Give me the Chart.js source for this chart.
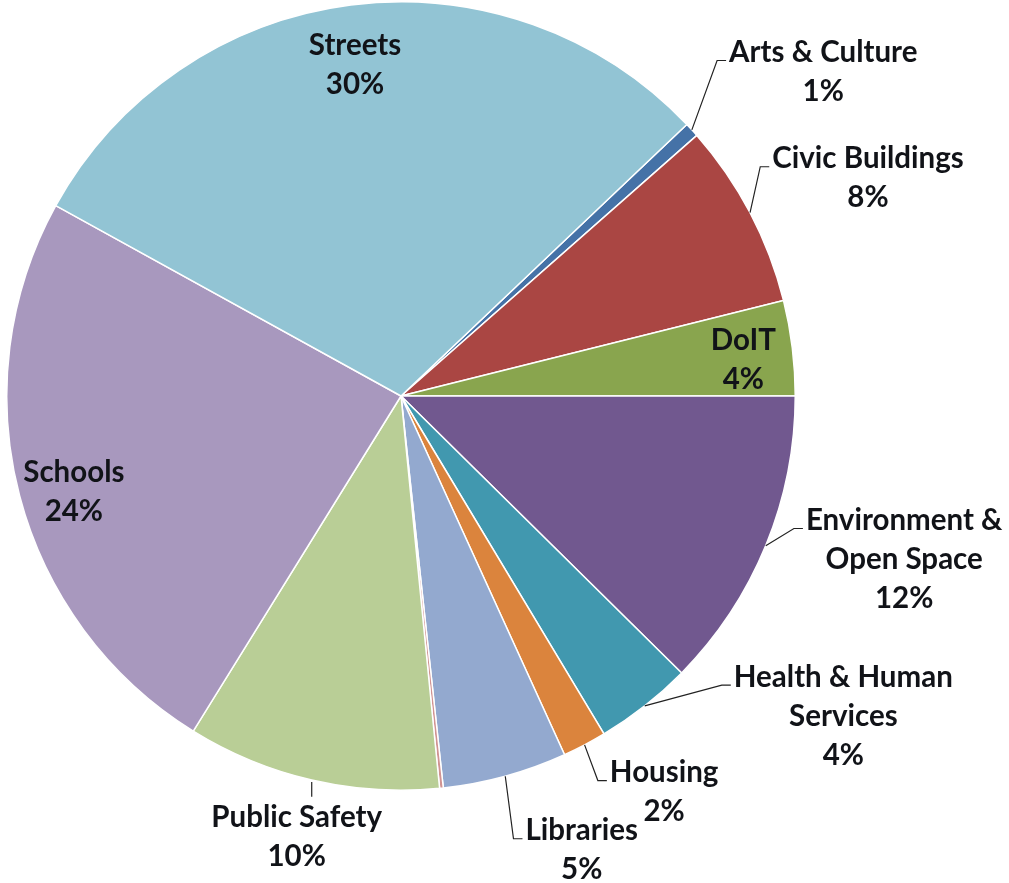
<!DOCTYPE html>
<html>
<head>
<meta charset="utf-8">
<script src="https://cdn.jsdelivr.net/npm/chart.js@4.4.1/dist/chart.umd.min.js"></script>
<style>
  html, body { margin: 0; padding: 0; background: #fff; }
  #wrap { width: 1009px; height: 883px; position: relative; }
</style>
</head>
<body>
<div id="wrap"><canvas id="budgetPie"></canvas></div>
<script>
// Capital budget share by area (percent of total)
const categories = ['Arts & Culture', 'Civic Buildings', 'DoIT', 'Environment & Open Space',
    'Health & Human Services', 'Housing', 'Libraries', 'Other', 'Public Safety', 'Schools', 'Streets'];
const labelLines = [['Arts & Culture'], ['Civic Buildings'], ['DoIT'], ['Environment &', 'Open Space'],
    ['Health & Human', 'Services'], ['Housing'], ['Libraries'], [], ['Public Safety'], ['Schools'], ['Streets']];
const shares = [0.6, 7.6, 3.9, 12.4, 4.0, 1.8, 5.1, 0.15, 10.4, 24.2, 29.9];
const sliceColors = ['#4572A7', '#AA4643', '#89A54E', '#71588F', '#4198AF', '#DB843D',
    '#93A9CF', '#D19392', '#B9CE96', '#A898BE', '#92C4D4'];

// where each label sits: angle clockwise from 12 o'clock, distance as a fraction of the radius
const labelAngles = [52.5, 65.0, 84.0, 108.0, 125.9, 146.4, 158.3, null, 193.3, 253.6, 352.1];
const labelDistances = [1.35, 1.307, 0.873, 1.342, 1.385, 1.206, 1.24, null, 1.15, 0.865, 0.848];
const leaderKinds = ['elbow', 'elbow', null, 'elbow', 'elbow', 'elbow', 'elbow', null, 'tick', null, null];

const total = shares.reduce((a, b) => a + b, 0);
const lineHeight = 39;

const pieLabels = {
    id: 'pieLabels',
    afterDatasetsDraw(chart) {
        const ctx = chart.ctx;
        const arcs = chart.getDatasetMeta(0).data;
        ctx.save();
        ctx.font = 'bold 29.5px Lato';
        ctx.fillStyle = '#111318';
        ctx.strokeStyle = '#222';
        ctx.lineWidth = 1.2;
        ctx.textAlign = 'center';
        ctx.textBaseline = 'middle';
        arcs.forEach((arc, i) => {
            if (labelAngles[i] == null) return;
            const { x, y, startAngle, endAngle, outerRadius } = arc.getProps(['x', 'y', 'startAngle', 'endAngle', 'outerRadius'], true);
            const a = labelAngles[i] * Math.PI / 180 - Math.PI / 2;
            const cx = x + Math.cos(a) * outerRadius * labelDistances[i];
            const cy = y + Math.sin(a) * outerRadius * labelDistances[i];
            const lines = labelLines[i].concat([Math.round(shares[i] / total * 100) + '%']);
            const y0 = cy - (lines.length - 1) * lineHeight / 2;
            lines.forEach((t, k) => ctx.fillText(t, cx, y0 + k * lineHeight));

            const mid = (startAngle + endAngle) / 2;
            const sx = x + Math.cos(mid) * outerRadius;
            const sy = y + Math.sin(mid) * outerRadius;
            if (leaderKinds[i] === 'elbow') {
                const left = cx - ctx.measureText(lines[0]).width / 2;
                ctx.beginPath();
                ctx.moveTo(sx, sy);
                ctx.lineTo(left - 12, y0 + 8);
                ctx.lineTo(left - 3, y0 + 8);
                ctx.stroke();
            } else if (leaderKinds[i] === 'tick') {
                ctx.beginPath();
                ctx.moveTo(sx, sy + 2);
                ctx.lineTo(sx, y0 - 21);
                ctx.stroke();
            }
        });
        ctx.restore();
    }
};

const ctxPie = document.getElementById('budgetPie').getContext('2d');
const budgetPie = new Chart(ctxPie, {
    type: 'pie',
    data: {
        labels: categories,
        datasets: [{
            data: shares,
            backgroundColor: sliceColors,
            borderColor: '#ffffff',
            borderWidth: 1.5
        }]
    },
    options: {
        responsive: true,
        maintainAspectRatio: false,
        animation: false,
        rotation: 90 - (shares[0] + shares[1] + shares[2]) / total * 360,
        layout: { padding: { left: 6, top: 1, right: 213, bottom: 92 } },
        plugins: {
            legend: { display: false },
            tooltip: { enabled: false }
        }
    },
    plugins: [pieLabels]
});
</script>
</body>
</html>
